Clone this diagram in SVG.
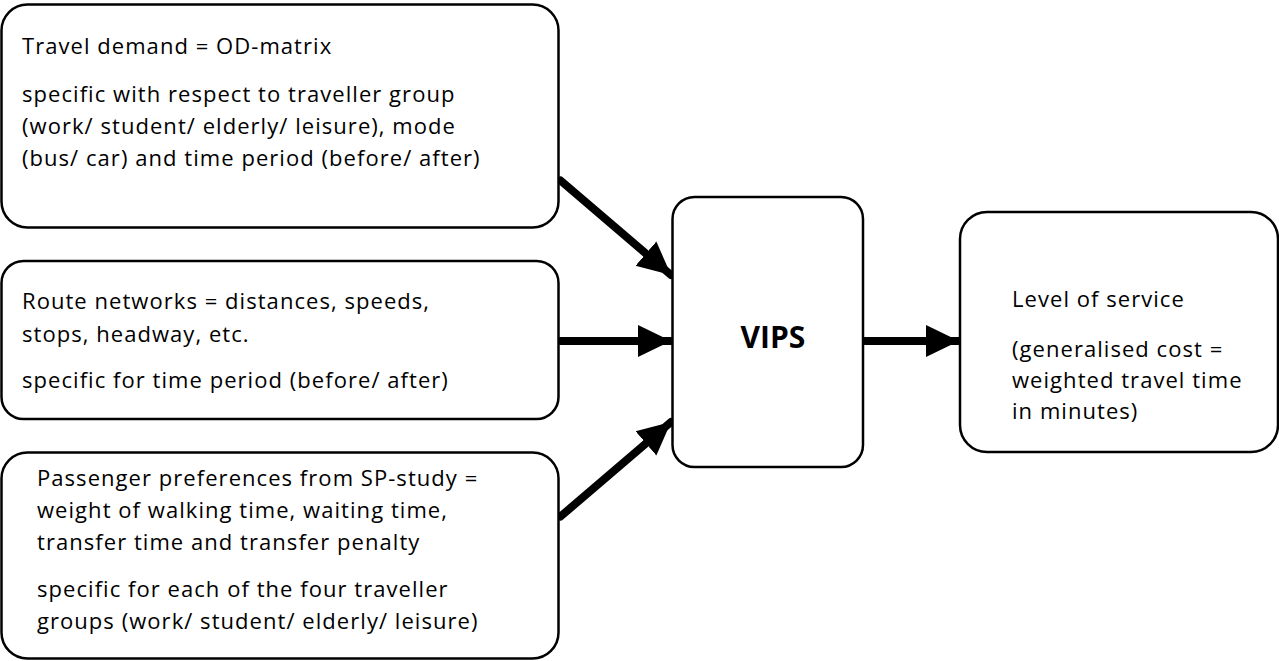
<svg xmlns="http://www.w3.org/2000/svg" width="1279" height="661" viewBox="0 0 1279 661">
<style>
.box{fill:#fff;stroke:#000;stroke-width:2.5}
.t{font-family:"Open Sans","Liberation Sans",sans-serif;font-size:22px;letter-spacing:1.05px;fill:#000}
.b{font-family:"Open Sans","Liberation Sans",sans-serif;font-size:30px;font-weight:bold;fill:#000}
.c{stroke:#000;stroke-width:8;stroke-linecap:round;fill:none}
</style>
<defs>
<marker id="ah" markerUnits="userSpaceOnUse" markerWidth="34" markerHeight="34" refX="33" refY="16" orient="auto" viewBox="0 0 34 32">
<path d="M0,0 L33,16 L0,32 Z" fill="#000"/>
</marker>
</defs>
<rect width="1279" height="661" fill="#fff"/>
<g id="connectors">
<line class="c" x1="560.5" y1="180.5" x2="671" y2="275" marker-end="url(#ah)"/>
<line class="c" x1="560.5" y1="341" x2="671" y2="341" marker-end="url(#ah)"/>
<line class="c" x1="560.5" y1="516.5" x2="671" y2="422" marker-end="url(#ah)"/>
<line class="c" x1="863" y1="341" x2="959" y2="341" marker-end="url(#ah)"/>
</g>
<g id="demand">
<rect class="box" x="1.5" y="4.5" width="557" height="223" rx="26"/>
<text class="t" x="22" y="54">Travel demand = OD-matrix</text>
<text class="t" x="22" y="102">specific with respect to traveller group</text>
<text class="t" x="22" y="134">(work/ student/ elderly/ leisure), mode</text>
<text class="t" x="22" y="166">(bus/ car) and time period (before/ after)</text>
</g>
<g id="network">
<rect class="box" x="1.5" y="261" width="557" height="158" rx="22"/>
<text class="t" x="22" y="309">Route networks = distances, speeds,</text>
<text class="t" x="22" y="342">stops, headway, etc.</text>
<text class="t" x="22" y="388">specific for time period (before/ after)</text>
</g>
<g id="preferences">
<rect class="box" x="1.5" y="452.5" width="557" height="206" rx="26"/>
<text class="t" x="37" y="486">Passenger preferences from SP-study =</text>
<text class="t" x="37" y="518">weight of walking time, waiting time,</text>
<text class="t" x="37" y="550">transfer time and transfer penalty</text>
<text class="t" x="37" y="597">specific for each of the four traveller</text>
<text class="t" x="37" y="629">groups (work/ student/ elderly/ leisure)</text>
</g>
<g id="vips">
<rect class="box" x="672.5" y="197" width="190.5" height="270" rx="22"/>
<text class="b" x="773" y="348" text-anchor="middle">VIPS</text>
</g>
<g id="los">
<rect class="box" x="960" y="212" width="318" height="240" rx="27"/>
<text class="t" x="1012" y="307">Level of service</text>
<text class="t" x="1012" y="357">(generalised cost =</text>
<text class="t" x="1012" y="388">weighted travel time</text>
<text class="t" x="1012" y="419">in minutes)</text>
</g>
</svg>
